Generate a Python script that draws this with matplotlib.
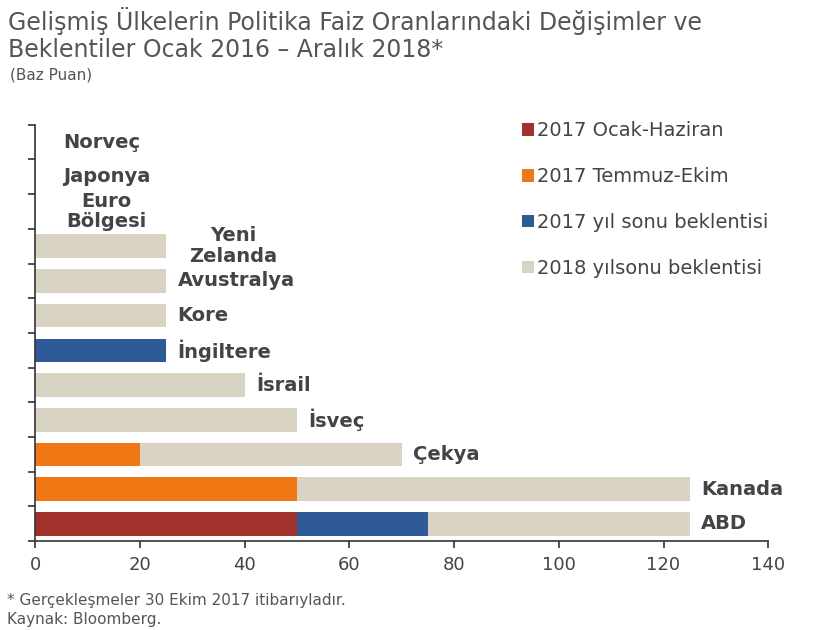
import matplotlib
matplotlib.use('Agg')
import matplotlib.pyplot as plt
import numpy as np

# categories, top to bottom
countries = ['Norveç', 'Japonya', 'Euro\nBölgesi', 'Yeni\nZelanda', 'Avustralya',
             'Kore', 'İngiltere', 'İsrail', 'İsveç', 'Çekya', 'Kanada', 'ABD']

# stacked segments (baz puan)
ocak_haziran_2017 = [0, 0, 0, 0, 0, 0, 0, 0, 0, 0, 0, 50]
temmuz_ekim_2017 = [0, 0, 0, 0, 0, 0, 0, 0, 0, 20, 50, 0]
yilsonu_2017 = [0, 0, 0, 0, 0, 0, 25, 0, 0, 0, 0, 25]
yilsonu_2018 = [0, 0, 0, 25, 25, 25, 0, 40, 50, 50, 75, 50]

series = [
    ('2017 Ocak-Haziran', ocak_haziran_2017, '#A0322B'),
    ('2017 Temmuz-Ekim', temmuz_ekim_2017, '#F07814'),
    ('2017 yıl sonu beklentisi', yilsonu_2017, '#2E5B98'),
    ('2018 yılsonu beklentisi', yilsonu_2018, '#D8D3C3'),
]

fig = plt.figure(figsize=(8.36, 6.30), dpi=100)
ax = fig.add_axes([0.042, 0.141, 0.877, 0.661])

y = np.arange(len(countries))
left = np.zeros(len(countries))
for name, vals, col in series:
    vals = np.array(vals, dtype=float)
    ax.barh(y, vals, left=left, height=0.68, color=col, label=name, zorder=2)
    left += vals

totals = left
for i, (c, t) in enumerate(zip(countries, totals)):
    if '\n' in c:
        # two-line labels are centred
        xc = 13.7 if t == 0 else t + 12.8
        ax.text(xc, i, c, ha='center', va='center', fontsize=14,
                fontweight='bold', color='#444444', linespacing=1.1)
    else:
        ax.text(t + (5.3 if t == 0 else 2.2), i, c, ha='left', va='center',
                fontsize=14, fontweight='bold', color='#444444')

ax.set_ylim(len(countries) - 0.5, -0.5)
ax.set_xlim(0, 140)
ax.set_xticks(np.arange(0, 141, 20))
ax.set_yticks(np.arange(-0.5, len(countries), 1.0))
ax.set_yticklabels([])
for s in ['top', 'right']:
    ax.spines[s].set_visible(False)
for s in ['left', 'bottom']:
    ax.spines[s].set_color('#333333')
    ax.spines[s].set_linewidth(1.2)
ax.tick_params(axis='both', direction='out', length=5, color='#333333', width=1.2)
ax.tick_params(axis='x', labelsize=13, labelcolor='#444444', pad=6)

leg = ax.legend(loc='upper left', bbox_to_anchor=(0.64, 1.05), frameon=False,
                handlelength=0.6, handleheight=0.6, handletextpad=0.2,
                labelspacing=1.38, prop={'size': 14})
for t in leg.get_texts():
    t.set_color('#444444')

fig.text(0.01, 0.988, 'Gelişmiş Ülkelerin Politika Faiz Oranlarındaki Değişimler ve\n'
         'Beklentiler Ocak 2016 – Aralık 2018*', ha='left', va='top',
         fontsize=17, color='#555555', linespacing=1.15)
fig.text(0.012, 0.893, '(Baz Puan)', ha='left', va='top', fontsize=11, color='#555555')

fig.text(0.008, 0.058, '* Gerçekleşmeler 30 Ekim 2017 itibarıyladır.\nKaynak: Bloomberg.',
         ha='left', va='top', fontsize=11, color='#555555', linespacing=1.3)

fig.savefig('out.png', dpi=100)
